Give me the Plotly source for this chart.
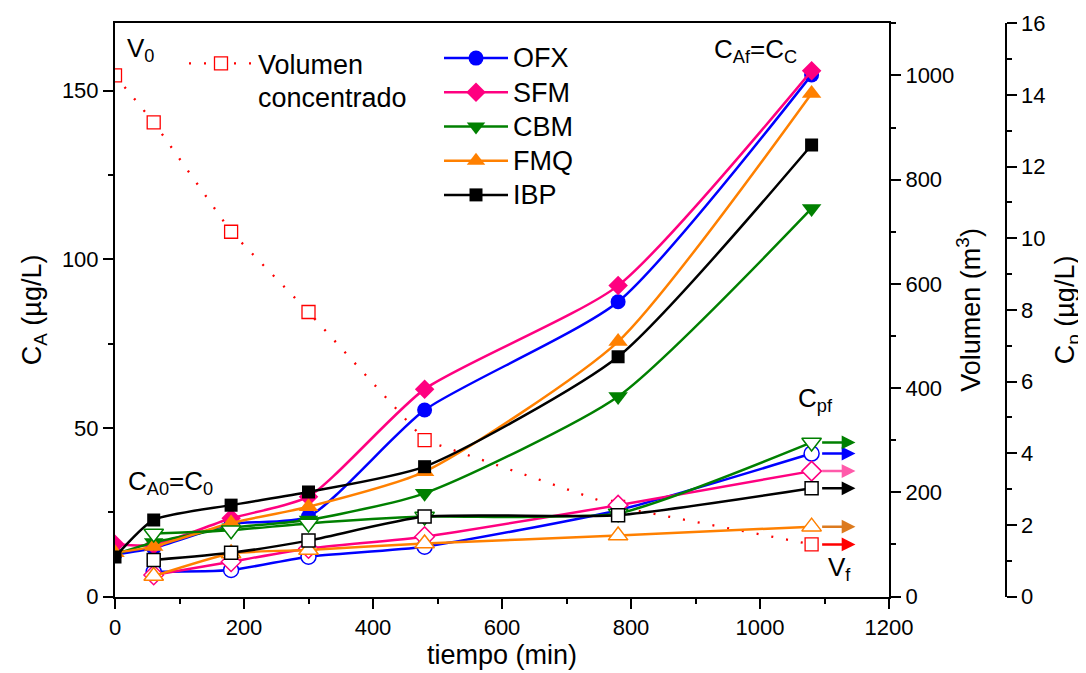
import plotly.graph_objects as go

# ---------------- data ----------------
t_min = [0, 60, 180, 300, 480, 780, 1080]
t_perm = [60, 180, 300, 480, 780, 1080]

# C_A (ug/L) feed/concentrate concentration, filled markers (left axis)
ca_ofx = [12.5, 14.4, 21.5, 23.7, 55.3, 87.4, 154.7]
ca_sfm = [15.5, 15.3, 23.2, 29.6, 61.5, 92.2, 155.9]
ca_cbm = [12.5, 16.0, 20.4, 22.7, 30.6, 59.3, 115.1]
ca_fmq = [13.0, 14.8, 21.8, 26.6, 37.0, 75.6, 149.2]
ca_ibp = [11.7, 22.7, 27.1, 31.0, 38.5, 71.1, 133.9]

# Cp (ug/L) permeate concentration, open markers (right axis 2)
cp_ofx = [0.69, 0.74, 1.11, 1.39, 2.41, 3.99]
cp_sfm = [0.60, 0.97, 1.34, 1.67, 2.55, 3.50]
cp_cbm = [1.76, 1.85, 2.04, 2.23, 2.32, 4.30]
cp_fmq = [0.57, 1.20, 1.30, 1.48, 1.70, 1.95]
cp_ibp = [1.02, 1.22, 1.56, 2.23, 2.27, 3.02]

# Volume of concentrate (m3) (right axis 1)
volumen = [1000, 910, 700, 546, 300, 172, 100]

names = ["OFX", "SFM", "CBM", "FMQ", "IBP"]
colors = ["#0000FF", "#FF0080", "#008000", "#FF8000", "#000000"]
arrow_colors = ["#0000FF", "#FF5AAA", "#008000", "#DC7A1E", "#000000"]
symbols = ["circle", "diamond", "triangle-down", "triangle-up", "square"]
sizes = [15, 15, 17, 17, 13]
ca_all = [ca_ofx, ca_sfm, ca_cbm, ca_fmq, ca_ibp]
cp_all = [cp_ofx, cp_sfm, cp_cbm, cp_fmq, cp_ibp]

FONT = "Liberation Sans"
OFF = 8  # page body margin of the browser
W, H = 1086 - OFF, 673 - OFF


def px(x):
    return (x - OFF) / W


def py(y):
    return 1 - (y - OFF) / H


fig = go.Figure()

# permeate concentration series (open markers)
for n, c, s, sz, cp in zip(names, colors, symbols, sizes, cp_all):
    fig.add_trace(go.Scatter(
        x=t_perm, y=cp, yaxis="y3", mode="lines+markers",
        line=dict(color=c, width=2.5, shape="spline", smoothing=0.55),
        marker=dict(symbol=s, size=sz, color="white", line=dict(color=c, width=1.5)),
        showlegend=False, name=n + " Cp"))

# volume
fig.add_trace(go.Scatter(
    x=t_min, y=volumen, yaxis="y2", mode="lines+markers",
    line=dict(color="#FF0000", width=2.3, dash="2px,13px"),
    marker=dict(symbol="square", size=13, color="white", line=dict(color="#FF0000", width=1.3)),
    name='<span style="font-size:27px">Volumen<br>concentrado</span>', legend="legend"))

# feed concentration series (filled markers)
for n, c, s, sz, ca in zip(names, colors, symbols, sizes, ca_all):
    fig.add_trace(go.Scatter(
        x=t_min, y=ca, yaxis="y", mode="lines+markers",
        line=dict(color=c, width=2.5, shape="spline", smoothing=0.6),
        marker=dict(symbol=s, size=sz, color=c),
        name='<span style="font-size:27px">' + n + '</span>', legend="legend2"))

# arrows at the end (final permeate concentrations / final volume)
annotations = []
for ac, cp in zip(arrow_colors, cp_all):
    annotations.append(dict(
        x=1148, y=cp[-1], xref="x", yref="y3",
        ax=1094, ay=cp[-1], axref="x", ayref="y3",
        showarrow=True, arrowhead=2, arrowsize=1.1, arrowwidth=2.5, arrowcolor=ac, text=""))
annotations.append(dict(
    x=1148, y=volumen[-1], xref="x", yref="y2",
    ax=1094, ay=volumen[-1], axref="x", ayref="y2",
    showarrow=True, arrowhead=2, arrowsize=1.1, arrowwidth=2.5, arrowcolor="#FF0000", text=""))


def lab(text, x, y):
    return dict(text=text, x=px(x), y=py(y), xref="paper", yref="paper",
                xanchor="left", yanchor="middle", showarrow=False,
                font=dict(family=FONT, size=26, color="black"))


annotations += [
    lab("V<sub>0</sub>", 125, 50),
    lab("C<sub>A0</sub>=C<sub>0</sub>", 126, 482),
    lab("C<sub>Af</sub>=C<sub>C</sub>", 712, 51),
    lab("C<sub>pf</sub>", 796, 400),
    lab("V<sub>f</sub>", 826, 568),
]

x0, x1 = px(115), px(889)
y0, y1 = py(596.5), py(23.3)

axis_common = dict(showgrid=False, zeroline=False, showline=True, linecolor="black",
                   linewidth=2, ticks="outside", ticklen=10, tickwidth=2, tickcolor="black",
                   tickfont=dict(family=FONT, size=22, color="black"))
TF = dict(family=FONT, size=27)

fig.update_layout(
    width=W, height=H,
    margin=dict(l=0, r=0, t=0, b=0),
    plot_bgcolor="white", paper_bgcolor="white",
    font=dict(family=FONT, color="black"),
    xaxis=dict(domain=[x0, x1], range=[0, 1200], dtick=200, tick0=0, mirror=True,
               minor=dict(dtick=100, ticks="outside", ticklen=5, tickwidth=2, tickcolor="black"),
               title=dict(text="tiempo (min)", font=TF, standoff=3),
               automargin=False, **axis_common),
    yaxis=dict(domain=[y0, y1], range=[0, 170], dtick=50, tick0=0,
               minor=dict(dtick=25, ticks="outside", ticklen=5, tickwidth=2, tickcolor="black"),
               title=dict(text="C<sub>A</sub> (µg/L)", font=TF, standoff=12),
               automargin=False, **axis_common),
    yaxis2=dict(range=[0, 1100], dtick=200, tick0=0, overlaying="y", side="right", anchor="x",
                minor=dict(dtick=100, ticks="outside", ticklen=5, tickwidth=2, tickcolor="black"),
                title=dict(text="Volumen (m<sup>3</sup>)", font=TF, standoff=8),
                automargin=False, **axis_common),
    yaxis3=dict(range=[0, 16], dtick=2, tick0=0, overlaying="y", side="right", anchor="free",
                position=px(1005.5),
                minor=dict(dtick=1, ticks="outside", ticklen=5, tickwidth=2, tickcolor="black"),
                title=dict(text="C<sub>p</sub> (µg/L)", font=TF, standoff=10),
                automargin=False, **axis_common),
    legend=dict(x=px(184), y=py(40), xanchor="left", yanchor="top",
                bgcolor="rgba(0,0,0,0)", font=dict(family=FONT, size=26),
                itemwidth=64, valign="top"),
    legend2=dict(x=px(439), y=py(36), xanchor="left", yanchor="top",
                 bgcolor="rgba(0,0,0,0)", font=dict(family=FONT, size=24),
                 itemwidth=64, tracegroupgap=0),
    annotations=annotations,
)

fig.write_html("out.html")
